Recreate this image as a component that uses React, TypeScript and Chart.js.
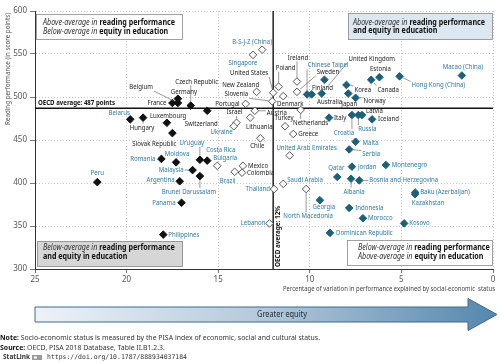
import React, { useEffect, useRef } from "react";
import { Chart, registerables } from "chart.js";
Chart.register(...registerables);

// ---------------- DATA ----------------
// Strength of socio-economic gradient above OECD average (black markers)
const blackNames = ["Belgium", "France", "Germany", "Czech Republic", "Switzerland", "Luxembourg", "Hungary", "Belarus", "Slovak Republic", "Romania", "Moldova", "Malaysia", "Argentina", "Brunei Darussalam", "Panama", "Uruguay", "Costa Rica", "Philippines", "Peru"];
const blackEquity = [17.2, 17.5, 17.2, 16.5, 15.6, 17.8, 19.1, 19.8, 17.5, 18.1, 17.3, 16.4, 17.1, 16.0, 17.0, 16.0, 15.6, 18.0, 21.6];
const blackReading = [493, 493, 498, 490, 484, 470, 476, 474, 458, 428, 424, 415, 402, 408, 377, 427, 426, 340, 401];

// Not significantly different from OECD average (white markers)
const whiteNames = ["B-S-J-Z (China)", "Singapore", "United States", "New Zealand", "Slovenia", "Portugal", "Austria", "Israel", "Lithuania", "Ukraine", "Chile", "Bulgaria", "Mexico", "Colombia", "Brazil", "Thailand", "Saudi Arabia", "Lebanon", "North Macedonia", "United Arab Emirates", "Greece", "Turkey", "Netherlands", "Poland", "Ireland", "Denmark", "Sweden"];
const whiteEquity = [12.6, 13.1, 12.0, 12.9, 12.05, 13.5, 13.0, 14.0, 13.25, 14.15, 12.7, 15.05, 13.65, 13.7, 14.1, 11.95, 11.45, 12.2, 10.2, 11.1, 10.9, 11.35, 10.5, 11.7, 10.7, 11.45, 10.7];
const whiteReading = [555, 549, 505, 506, 495, 492, 484, 470, 476, 466, 452, 420, 420, 412, 413, 393, 399, 353, 393, 432, 457, 466, 485, 512, 518, 501, 506];

// Below OECD average strength (teal markers)
const tealNames = ["Chinese Taipei", "Australia", "United Kingdom", "Finland", "Korea", "Japan", "Norway", "Estonia", "Canada", "Hong Kong (China)", "Macao (China)", "Italy", "Croatia", "Russia", "Latvia", "Iceland", "Malta", "Serbia", "Montenegro", "Jordan", "Qatar", "Albania", "Bosnia and Herzegovina", "Baku (Azerbaijan)", "Kazakhstan", "Georgia", "Indonesia", "Morocco", "Kosovo", "Dominican Republic"];
const tealEquity = [10.15, 9.9, 9.35, 9.2, 8.0, 7.9, 7.5, 6.2, 6.65, 5.1, 1.7, 8.95, 7.7, 7.35, 7.15, 6.6, 7.5, 7.85, 5.85, 7.7, 8.5, 7.75, 7.3, 4.25, 4.25, 9.45, 7.85, 7.1, 4.85, 8.9];
const tealReading = [503, 503, 504, 520, 514, 504, 499, 523, 520, 524, 525, 476, 479, 479, 479, 474, 448, 439, 421, 419, 407, 405, 403, 389, 387, 380, 371, 359, 353, 342];

// Partner economies (labels in blue)
const partners = ["Belarus", "Romania", "Moldova", "Malaysia", "Argentina", "Brunei Darussalam", "Panama", "Uruguay", "Costa Rica", "Philippines", "Peru", "B-S-J-Z (China)", "Singapore", "Ukraine", "Bulgaria", "Brazil", "Thailand", "Saudi Arabia", "Lebanon", "North Macedonia", "United Arab Emirates", "Chinese Taipei", "Hong Kong (China)", "Macao (China)", "Croatia", "Russia", "Malta", "Serbia", "Montenegro", "Jordan", "Qatar", "Albania", "Bosnia and Herzegovina", "Baku (Azerbaijan)", "Kazakhstan", "Georgia", "Indonesia", "Morocco", "Kosovo", "Dominican Republic"];

const xTickValues = [25, 20, 15, 10, 5, 0];
const yTickValues = [300, 350, 400, 450, 500, 550, 600];
const oecdReading = 487;
const oecdEquity = 12;

const xTitle = "Percentage of variation in performance explained by social-economic  status";
const yTitle = "Reading performance (in score points)";
const noteText = " Socio-economic status is measured by the PISA index of economic, social and cultural status.";
const sourceText = " OECD, PISA 2018 Database, Table II.B1.2.3.";
const statUrl = "https://doi.org/10.1787/888934037184";

// ---------------- LAYOUT (label placement: dx, dy, align, leader line) ----------------
type Place = [number, number, "l" | "r" | "c", number];
const labelPlace: Record<string, Place> = {
  "Belgium": [-25, -16, "r", 1], "France": [-6, 0, "r", 0], "Germany": [6, -7, "c", 0],
  "Czech Republic": [6, -24, "c", 1], "Switzerland": [-6, 13, "c", 0], "Luxembourg": [-17, -7, "l", 0],
  "Hungary": [-1, 10, "c", 1], "Belarus": [-11, -6, "c", 0], "Slovak Republic": [-18, 11, "c", 0],
  "Romania": [-6, 0, "r", 0], "Moldova": [1, -8, "c", 0], "Malaysia": [-9, 0, "r", 1],
  "Argentina": [-5, -1, "r", 0], "Brunei Darussalam": [-11, 16, "c", 1], "Panama": [-6, 0, "r", 0],
  "Uruguay": [-8, -17, "c", 1], "Costa Rica": [-1, -11, "l", 0], "Philippines": [5, 0, "l", 0],
  "Peru": [0, -9, "c", 0],
  "B-S-J-Z (China)": [-10, -8, "c", 0], "Singapore": [-10, 8, "c", 0], "United States": [-24, -20, "c", 1],
  "New Zealand": [-16, -7, "c", 1], "Slovenia": [-24, -7, "r", 1], "Portugal": [-6, 0, "r", 1],
  "Austria": [12, 2, "l", 1], "Israel": [-2, -11, "c", 1], "Lithuania": [9, 9, "c", 0],
  "Ukraine": [-1, 6, "r", 1], "Chile": [-3, 8, "c", 0], "Bulgaria": [-4, -8, "l", 0],
  "Mexico": [5, 0, "l", 0], "Colombia": [5, 0, "l", 1], "Brazil": [-7, 9, "c", 1],
  "Thailand": [-4, 0, "r", 0], "Saudi Arabia": [4, -4, "l", 0], "Lebanon": [-4, 0, "r", 0],
  "North Macedonia": [2, 27, "c", 1], "United Arab Emirates": [17, -7, "c", 0], "Greece": [5, 0, "l", 0],
  "Turkey": [-1, -8, "c", 0], "Netherlands": [10, 13, "c", 1], "Poland": [7, -19, "c", 1],
  "Ireland": [1, -24, "c", 1], "Denmark": [7, 8, "c", 0], "Sweden": [31, -20, "c", 1],
  "Chinese Taipei": [21, -29, "c", 1], "Australia": [18, 8, "c", 0], "United Kingdom": [50, -35, "c", 1],
  "Finland": [-2, 8, "c", 0], "Korea": [8, 5, "l", 1], "Japan": [1, 10, "c", 0],
  "Norway": [8, 3, "l", 1], "Estonia": [1, -8, "c", 0], "Canada": [17, 10, "c", 1],
  "Hong Kong (China)": [12, 9, "l", 1], "Macao (China)": [1, -9, "c", 0], "Italy": [5, 0, "l", 0],
  "Croatia": [-8, 18, "c", 1], "Russia": [9, 14, "c", 1], "Latvia": [4, -4, "l", 0],
  "Iceland": [6, 0, "l", 0], "Malta": [7, 1, "l", 0], "Serbia": [13, 5, "l", 1],
  "Montenegro": [6, 0, "l", 0], "Jordan": [6, 0, "l", 0], "Qatar": [-1, -9, "c", 0],
  "Albania": [3, 13, "c", 1], "Bosnia and Herzegovina": [10, 0, "l", 1], "Baku (Azerbaijan)": [5, 0, "l", 0],
  "Kazakhstan": [13, 9, "c", 0], "Georgia": [4, 7, "c", 0], "Indonesia": [6, 0, "l", 0],
  "Morocco": [5, 0, "l", 0], "Kosovo": [5, 0, "l", 1], "Dominican Republic": [6, 0, "l", 0],
};

const FONT = "'Noto Sans', 'Open Sans', Arial, sans-serif";
const MONO = "'DejaVu Sans Mono', 'Liberation Mono', monospace";
const TEAL_MARK = "#1d6079";
const TEAL_TEXT = "#2f7aa0";
const DARK_TEXT = "#222";

type Part = [string, string, string];

function richWidth(ctx: CanvasRenderingContext2D, parts: Part[]) {
  let w = 0;
  ctx.save();
  for (const [s, f] of parts) { ctx.font = f; w += ctx.measureText(s).width; }
  ctx.restore();
  return w;
}
function richText(ctx: CanvasRenderingContext2D, parts: Part[], x: number, y: number, sx: number) {
  ctx.save();
  ctx.translate(x, y);
  ctx.scale(sx, 1);
  ctx.textAlign = "left";
  ctx.textBaseline = "middle";
  let cx = 0;
  for (const [s, f, c] of parts) {
    ctx.font = f; ctx.fillStyle = c;
    ctx.fillText(s, cx, 0);
    cx += ctx.measureText(s).width;
  }
  ctx.restore();
}
function fitText(ctx: CanvasRenderingContext2D, s: string, font: string, color: string, x: number, y: number, width: number, align: CanvasTextAlign) {
  ctx.save();
  ctx.font = font;
  const sx = width / ctx.measureText(s).width;
  ctx.translate(x, y);
  ctx.scale(sx, 1);
  ctx.textAlign = align;
  ctx.textBaseline = "middle";
  ctx.fillStyle = color;
  ctx.fillText(s, 0, 0);
  ctx.restore();
}

const overlay = {
  id: "overlay",
  beforeDatasetsDraw(chart: any) {
    const { ctx, chartArea: ca, scales } = chart;
    const xs = scales.x, ys = scales.y;
    ctx.save();
    // quadrant boxes
    const italic = `italic 8px ${FONT}`;
    const bold = `bold 8px ${FONT}`;
    const sxB = 132 / richWidth(ctx, [["Above-average in ", italic, ""], ["reading performance", bold, ""]]);
    const box = (x: number, y: number, w: number, h: number, fill: string) => {
      ctx.fillStyle = fill; ctx.fillRect(x, y, w, h);
      ctx.strokeStyle = "#8a8a8a"; ctx.lineWidth = 0.8; ctx.strokeRect(x + 0.5, y + 0.5, w - 1, h - 1);
    };
    const L = ca.left, R = ca.right, T = ca.top, B = ca.bottom;
    box(L + 1, T + 3, 147, 26, "#ffffff");
    richText(ctx, [["Above-average in ", italic, "#333"], ["reading performance", bold, "#111"]], L + 8, T + 11.5, sxB);
    richText(ctx, [["Below-average in ", italic, "#333"], ["equity in education", bold, "#111"]], L + 8, T + 20.5, sxB);
    box(R - 145, T + 2, 145, 27, "#dde7ef");
    richText(ctx, [["Above-average in ", italic, "#333"], ["reading performance", bold, "#111"]], R - 140, T + 11.5, sxB);
    richText(ctx, [["and equity in education", bold, "#111"]], R - 140, T + 19.5, sxB);
    box(L + 2, B - 28, 146, 26, "#d6d6d6");
    richText(ctx, [["Below-average in ", italic, "#333"], ["reading performance", bold, "#111"]], L + 8, B - 21.5, sxB);
    richText(ctx, [["and equity in education", bold, "#111"]], L + 8, B - 12, sxB);
    box(R - 146, B - 29, 146, 26, "#ffffff");
    richText(ctx, [["Below-average in ", italic, "#333"], ["reading performance", bold, "#111"]], R - 135, B - 21, sxB);
    richText(ctx, [["Above-average in ", italic, "#333"], ["equity in education", bold, "#111"]], R - 135, B - 12, sxB);

    // OECD average lines
    const yAvg = ys.getPixelForValue(oecdReading);
    const xAvg = xs.getPixelForValue(oecdEquity);
    ctx.strokeStyle = "#111"; ctx.lineWidth = 1.4;
    ctx.beginPath(); ctx.moveTo(L, yAvg); ctx.lineTo(R, yAvg); ctx.stroke();
    ctx.beginPath(); ctx.moveTo(xAvg, T); ctx.lineTo(xAvg, B); ctx.stroke();

    fitText(ctx, "OECD average: 487 points", `bold 7px ${FONT}`, "#111", L + 3, yAvg - 5.5, 77, "left");
    ctx.save();
    ctx.translate(xAvg + 4.5, B - 2);
    ctx.rotate(-Math.PI / 2);
    fitText(ctx, "OECD average: 12%", `bold 7px ${FONT}`, "#111", 0, 0, 61, "left");
    ctx.restore();
    ctx.restore();
  },
  afterDatasetsDraw(chart: any) {
    const ctx: CanvasRenderingContext2D = chart.ctx;
    ctx.save();
    const lf = `7px ${FONT}`;
    ctx.font = lf;
    const sx = 69 / ctx.measureText("Bosnia and Herzegovina").width;
    const groups = [blackNames, whiteNames, tealNames];
    groups.forEach((names, di) => {
      const meta = chart.getDatasetMeta(di);
      names.forEach((name, i) => {
        const pt = meta.data[i];
        const pl = labelPlace[name];
        if (!pt || !pl) return;
        const px = pt.x, py = pt.y;
        const [dx, dy, al, line] = pl;
        const ax = px + dx, ay = py + dy;
        ctx.font = lf;
        const w = ctx.measureText(name).width * sx;
        const x0 = al === "l" ? ax : al === "r" ? ax - w : ax - w / 2;
        const x1 = x0 + w, y0 = ay - 3.5, y1 = ay + 3.5;
        if (line) {
          const tx = Math.min(Math.max(px, x0 - 1), x1 + 1);
          const ty = Math.min(Math.max(py, y0 - 0.5), y1 + 0.5);
          const vx = tx - px, vy = ty - py;
          const d = Math.hypot(vx, vy);
          if (d > 5) {
            ctx.strokeStyle = "#555"; ctx.lineWidth = 0.6;
            ctx.beginPath();
            ctx.moveTo(px + (vx / d) * 4, py + (vy / d) * 4);
            ctx.lineTo(tx, ty);
            ctx.stroke();
          }
        }
        ctx.save();
        ctx.translate(ax, ay);
        ctx.scale(sx, 1);
        ctx.textAlign = al === "l" ? "left" : al === "r" ? "right" : "center";
        ctx.textBaseline = "middle";
        ctx.fillStyle = partners.includes(name) ? TEAL_TEXT : DARK_TEXT;
        ctx.fillText(name, 0, 0);
        ctx.restore();
      });
    });
    ctx.restore();
  },
  afterDraw(chart: any) {
    const ctx: CanvasRenderingContext2D = chart.ctx;
    const ca = chart.chartArea;
    ctx.save();
    // axis titles
    fitText(ctx, xTitle, `7px ${FONT}`, "#444", ca.right + 2, ca.bottom + 20, 212, "right");
    ctx.save();
    ctx.translate(8, ca.top + 2);
    ctx.rotate(-Math.PI / 2);
    fitText(ctx, yTitle, `7px ${FONT}`, "#555", 0, 0, 112, "right");
    ctx.restore();

    // Greater equity arrow
    const ax0 = ca.left, ax1 = 468, tip = 497, cy = 314.5;
    const grad = ctx.createLinearGradient(ax0, 0, tip, 0);
    grad.addColorStop(0, "#eef2f7");
    grad.addColorStop(0.5, "#b3c8da");
    grad.addColorStop(1, "#5487ad");
    ctx.beginPath();
    ctx.moveTo(ax0, cy - 7.5);
    ctx.lineTo(ax1, cy - 7.5);
    ctx.lineTo(ax1, cy - 16);
    ctx.lineTo(tip, cy);
    ctx.lineTo(ax1, cy + 16);
    ctx.lineTo(ax1, cy + 7.5);
    ctx.lineTo(ax0, cy + 7.5);
    ctx.closePath();
    ctx.fillStyle = grad; ctx.fill();
    ctx.strokeStyle = "#3f6a8b"; ctx.lineWidth = 1; ctx.stroke();
    fitText(ctx, "Greater equity", `8.5px ${FONT}`, "#1d2a33", 282, cy, 50, "center");

    // footnotes
    const nb = `bold 7px ${FONT}`, nr = `7px ${FONT}`;
    const sxN = 320 / richWidth(ctx, [["Note:", nb, ""], [noteText, nr, ""]]);
    richText(ctx, [["Note:", nb, "#111"], [noteText, nr, "#333"]], 0, 337.5, sxN);
    richText(ctx, [["Source:", nb, "#111"], [sourceText, nr, "#333"]], 0, 347.5, sxN);
    fitText(ctx, "StatLink", `bold 6.5px ${FONT}`, "#333", 3, 357.5, 27, "left");
    ctx.fillStyle = "#9a9a9a"; ctx.fillRect(32, 355, 10, 5);
    ctx.fillStyle = "#fff"; ctx.fillRect(34, 356.5, 3, 2);
    fitText(ctx, statUrl, `6.5px ${MONO}`, "#333", 47, 357.5, 140, "left");
    ctx.restore();
  },
};

export default function App() {
  const ref = useRef<HTMLCanvasElement | null>(null);
  useEffect(() => {
    if (!ref.current) return;
    const mk = (names: string[], xs: number[], ys: number[]) => names.map((_, i) => ({ x: xs[i], y: ys[i] }));
    const chart = new Chart(ref.current, {
      type: "scatter",
      data: {
        datasets: [
          { data: mk(blackNames, blackEquity, blackReading), pointStyle: "rectRot", radius: 3.8, backgroundColor: "#111", borderColor: "#111", borderWidth: 1 },
          { data: mk(whiteNames, whiteEquity, whiteReading), pointStyle: "rectRot", radius: 3.8, backgroundColor: "#fff", borderColor: "#444", borderWidth: 0.9 },
          { data: mk(tealNames, tealEquity, tealReading), pointStyle: "rectRot", radius: 3.8, backgroundColor: TEAL_MARK, borderColor: TEAL_MARK, borderWidth: 1 },
        ],
      } as any,
      options: {
        animation: false,
        responsive: false,
        events: [],
        layout: { padding: { left: 0, top: 11, right: 7, bottom: 70 } },
        plugins: { legend: { display: false }, tooltip: { enabled: false } },
        scales: {
          x: {
            type: "linear",
            reverse: true,
            min: 0,
            max: 25,
            afterFit: (s: any) => { s.height = 24; },
            afterBuildTicks: (s: any) => { s.ticks = xTickValues.map((v) => ({ value: v })); },
            ticks: { color: "#555", font: { size: 8, family: FONT }, padding: 2, maxRotation: 0 },
            grid: { color: "#b5b5b5", lineWidth: 0.8, tickLength: 4, tickColor: "#555" },
            border: { display: true, color: "#333", width: 1, dash: [1, 2] },
          },
          y: {
            min: 300,
            max: 600,
            afterFit: (s: any) => { s.width = 35; },
            afterBuildTicks: (s: any) => { s.ticks = yTickValues.map((v) => ({ value: v })); },
            ticks: { color: "#555", font: { size: 8, family: FONT }, padding: 3 },
            grid: { color: "#b5b5b5", lineWidth: 0.8, tickLength: 5, tickColor: "#555" },
            border: { display: true, color: "#333", width: 1, dash: [1, 2] },
          },
        },
      } as any,
      plugins: [overlay as any],
    });
    return () => chart.destroy();
  }, []);
  return (
    <div style={{ position: "absolute", left: 0, top: 0, width: 500, height: 363, background: "#fff" }}>
      <canvas ref={ref} width={500} height={363} style={{ width: 500, height: 363, display: "block" }} />
    </div>
  );
}
